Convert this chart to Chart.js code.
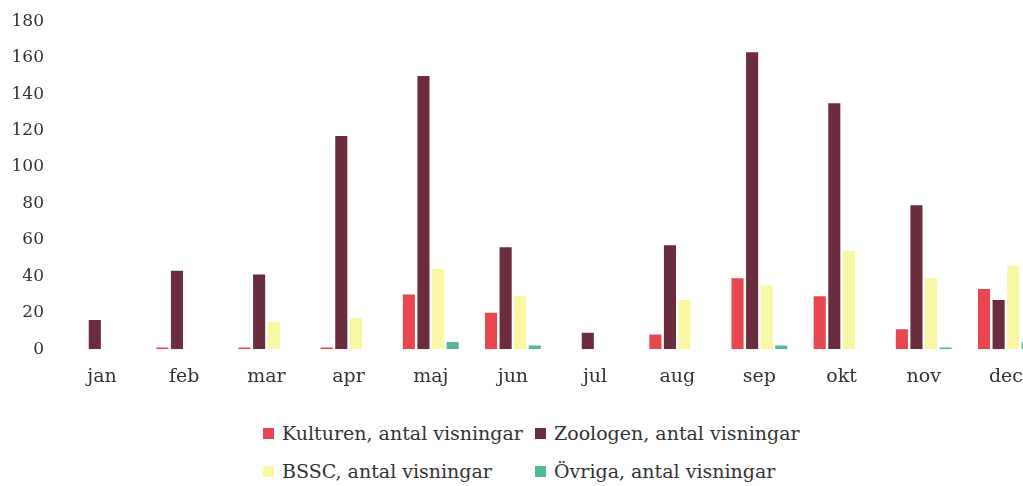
<!DOCTYPE html>
<html>
<head>
<meta charset="utf-8">
<script src="https://cdn.jsdelivr.net/npm/chart.js@4"></script>
<style>
  body { margin: 0; background: #fff; overflow: hidden; width: 1023px; height: 486px; }
  #wrap { position: relative; width: 1047px; height: 404px; }
  #legend { position: absolute; left: 263px; top: 414px; font-family: "DejaVu Serif", serif; font-size: 19px; color: #333; }
  #legend .row { display: flex; height: 38px; align-items: center; }
  #legend .item { display: flex; align-items: center; }
  #legend .item:first-child { width: 272px; }
  #legend .box { width: 11px; height: 11px; margin-right: 8px; }
</style>
</head>
<body>
<div id="wrap"><canvas id="chart"></canvas></div>
<div id="legend"></div>
<script>
// Data
const months = ['jan', 'feb', 'mar', 'apr', 'maj', 'jun', 'jul', 'aug', 'sep', 'okt', 'nov', 'dec'];
const kulturen = [0, 1, 1, 1, 30, 20, 0, 8, 39, 29, 11, 33];
const zoologen = [16, 43, 41, 117, 150, 56, 9, 57, 163, 135, 79, 27];
const bssc = [0, 0, 15, 17, 44, 29, 0, 27, 35, 54, 39, 46];
const ovriga = [0, 0, 0, 0, 4, 2, 0, 0, 2, 0, 1, 4];
const yTicks = [0, 20, 40, 60, 80, 100, 120, 140, 160, 180];

const seriesNames = ['Kulturen, antal visningar', 'Zoologen, antal visningar', 'BSSC, antal visningar', 'Övriga, antal visningar'];
const colors = ['#e8474f', '#6b2d3e', '#f9f6a4', '#52b998'];

const ctx = document.getElementById('chart').getContext('2d');
const chart = new Chart(ctx, {
  type: 'bar',
  data: {
    labels: months,
    datasets: [kulturen, zoologen, bssc, ovriga].map((d, i) => ({
      label: seriesNames[i],
      data: d,
      backgroundColor: colors[i],
      borderWidth: 0,
      categoryPercentage: 0.71,
      barPercentage: 0.83,
    })),
  },
  options: {
    responsive: true,
    maintainAspectRatio: false,
    animation: false,
    layout: { padding: { top: 8, left: 12 } },
    plugins: {
      legend: { display: false },
      tooltip: { enabled: false },
    },
    scales: {
      x: {
        grid: { display: false, drawTicks: false },
        border: { display: false },
        ticks: { color: '#333', padding: 16, font: { family: 'DejaVu Serif', size: 19 } },
      },
      y: {
        min: 0,
        max: 180,
        afterBuildTicks: axis => { axis.ticks = yTicks.map(v => ({ value: v })); },
        afterFit: axis => { axis.width = 49; },
        grid: { display: false, drawTicks: false },
        border: { display: false },
        // small lineHeight so the top padding of the axis stays tight
        ticks: { color: '#333', padding: 17, font: { family: 'DejaVu Serif', size: 17, lineHeight: 0.5 } },
      },
    },
  },
});

// Legend in two rows, like the original
const legend = document.getElementById('legend');
[[0, 1], [2, 3]].forEach(pair => {
  const row = document.createElement('div');
  row.className = 'row';
  pair.forEach(i => {
    const ds = chart.data.datasets[i];
    const item = document.createElement('div');
    item.className = 'item';
    item.innerHTML = `<span class="box" style="background:${ds.backgroundColor}"></span>${ds.label}`;
    row.appendChild(item);
  });
  legend.appendChild(row);
});
</script>
</body>
</html>
